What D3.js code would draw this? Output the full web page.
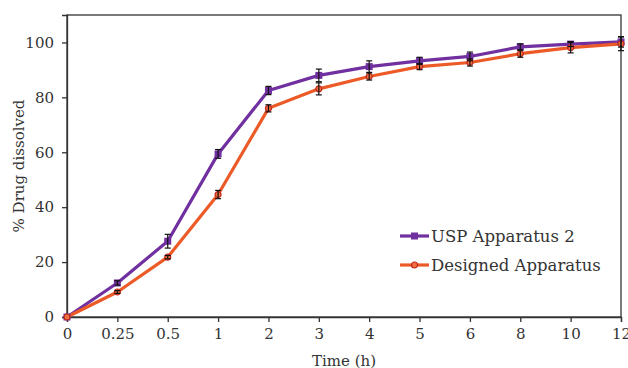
<!DOCTYPE html>
<html>
<head>
<meta charset="utf-8">
<script src="https://cdn.jsdelivr.net/npm/d3@7"></script>
<style>
  body { margin: 0; background: #fff; }
  text { font-family: "DejaVu Serif", "Liberation Serif", serif; fill: #333; }
</style>
</head>
<body>
<div id="chart"></div>
<script>
// Dissolution profile data
const timeLabels = ['0', '0.25', '0.5', '1', '2', '3', '4', '5', '6', '8', '10', '12'];
const uspValues = [0, 12.4, 27.6, 59.4, 82.5, 88, 91.2, 93.3, 94.9, 98.4, 99.4, 100.2];
const uspErrors = [0, 0.8, 2.5, 1.6, 1.5, 2.3, 2.1, 1.3, 1.6, 1.1, 0.9, 1.9];
const designedValues = [0, 9.1, 21.8, 44.6, 76, 83.1, 87.6, 91.2, 92.7, 95.9, 98.1, 99.5];
const designedErrors = [0, 0.5, 0.6, 1.5, 1.3, 2.2, 1.3, 1.1, 1.3, 1.3, 1.9, 2.5];
const yTicks = [0, 20, 40, 60, 80, 100];

const width = 628, height = 368;
const margin = { top: 15, right: 7, bottom: 51, left: 67 };
const innerW = width - margin.left - margin.right;
const innerH = height - margin.top - margin.bottom;

const svg = d3.select('#chart').append('svg')
    .attr('width', width)
    .attr('height', height);

const g = svg.append('g')
    .attr('transform', `translate(${margin.left},${margin.top})`);

const x = d3.scalePoint().domain(timeLabels).range([0, innerW]).padding(0);
const y = d3.scaleLinear().domain([0, 110]).range([innerH, 0]);

// frame
g.append('rect')
    .attr('width', innerW)
    .attr('height', innerH)
    .attr('fill', 'none')
    .attr('stroke', '#333')
    .attr('stroke-width', 1.3);

// axes
const xAxis = g.append('g')
    .attr('transform', `translate(0,${innerH})`)
    .call(d3.axisBottom(x).tickSize(5).tickPadding(6));
const yAxis = g.append('g')
    .call(d3.axisLeft(y).tickValues(yTicks).tickSize(5).tickPadding(8));

[xAxis, yAxis].forEach(a => {
    a.select('.domain').attr('stroke', '#333').attr('stroke-width', 1.3);
    a.selectAll('.tick line').attr('stroke', '#333').attr('stroke-width', 1.3);
    a.selectAll('.tick text').style('font-size', '15px').style('font-family', '"DejaVu Serif", serif').attr('fill', '#333');
});

// axis titles
svg.append('text')
    .attr('x', margin.left + innerW / 2)
    .attr('y', 366)
    .attr('text-anchor', 'middle')
    .style('font-size', '15px')
    .text('Time (h)');

svg.append('text')
    .attr('transform', `translate(24,${margin.top + innerH / 2}) rotate(-90)`)
    .attr('text-anchor', 'middle')
    .style('font-size', '15px')
    .text('% Drug dissolved');

const series = [
    { name: 'USP Apparatus 2', values: uspValues, errors: uspErrors, color: '#7030A0', marker: 'square' },
    { name: 'Designed Apparatus', values: designedValues, errors: designedErrors, color: '#EC5A28', marker: 'circle' }
];

const line = d3.line()
    .x((d, i) => x(timeLabels[i]))
    .y(d => y(d));

series.forEach(s => {
    g.append('path')
        .datum(s.values)
        .attr('fill', 'none')
        .attr('stroke', s.color)
        .attr('stroke-width', 3.2)
        .attr('stroke-linejoin', 'round')
        .attr('d', line);
});

// markers
series.forEach(s => {
    const pts = g.append('g').selectAll('g')
        .data(s.values)
        .join('g')
        .attr('transform', (d, i) => `translate(${x(timeLabels[i])},${y(d)})`);
    if (s.marker === 'square') {
        pts.append('rect')
            .attr('x', -3.5).attr('y', -3.5)
            .attr('width', 7).attr('height', 7)
            .attr('fill', s.color);
    } else {
        pts.append('circle')
            .attr('r', 3)
            .attr('fill', '#F07040')
            .attr('stroke', '#C0281C')
            .attr('stroke-width', 1.2);
    }
});

// error bars
series.forEach(s => {
    const eb = g.append('g').selectAll('g')
        .data(s.values.map((v, i) => ({ v, e: s.errors[i], t: timeLabels[i] })).filter(d => d.e > 0))
        .join('g')
        .attr('stroke', '#111')
        .attr('stroke-width', 1.2);
    eb.append('line')
        .attr('x1', d => x(d.t)).attr('x2', d => x(d.t))
        .attr('y1', d => y(d.v - d.e)).attr('y2', d => y(d.v + d.e));
    eb.append('line')
        .attr('x1', d => x(d.t) - 3).attr('x2', d => x(d.t) + 3)
        .attr('y1', d => y(d.v + d.e)).attr('y2', d => y(d.v + d.e));
    eb.append('line')
        .attr('x1', d => x(d.t) - 3).attr('x2', d => x(d.t) + 3)
        .attr('y1', d => y(d.v - d.e)).attr('y2', d => y(d.v - d.e));
});

// legend
const legend = svg.append('g').attr('transform', 'translate(400,236)');
series.forEach((s, i) => {
    const row = legend.append('g').attr('transform', `translate(0,${i * 29})`);
    row.append('line')
        .attr('x1', 0).attr('x2', 29)
        .attr('stroke', s.color)
        .attr('stroke-width', 3.2);
    if (s.marker === 'square') {
        row.append('rect').attr('x', 11).attr('y', -3.5).attr('width', 7).attr('height', 7).attr('fill', s.color);
    } else {
        row.append('circle').attr('cx', 14.5).attr('r', 3).attr('fill', '#F07040').attr('stroke', '#C0281C').attr('stroke-width', 1.2);
    }
    row.append('text')
        .attr('x', 31)
        .attr('y', 0)
        .attr('dy', '0.35em')
        .style('font-size', '16.5px')
        .text(s.name);
});
</script>
</body>
</html>
